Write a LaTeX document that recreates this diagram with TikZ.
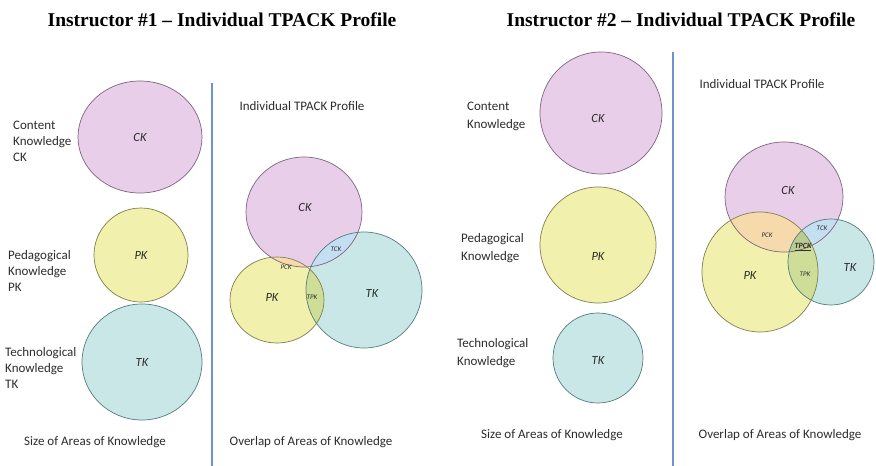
\documentclass[tikz,border=0pt]{standalone}
\usepackage{fontspec}
\setmainfont{Carlito}
\newfontfamily\titlefont{Liberation Serif}
\usepackage{tikz}
\usetikzlibrary{positioning}
\usepackage{xcolor}
\definecolor{ckfill}{RGB}{232,206,232}
\definecolor{ckline}{RGB}{128,100,128}
\definecolor{pkfill}{RGB}{241,240,172}
\definecolor{pkline}{RGB}{128,128,80}
\definecolor{tkfill}{RGB}{202,231,231}
\definecolor{tkline}{RGB}{84,124,124}
\definecolor{pckfill}{RGB}{246,218,172}
\definecolor{tckfill}{RGB}{196,222,242}
\definecolor{tpkfill}{RGB}{206,222,152}
\definecolor{tpckfill}{RGB}{186,204,146}
\definecolor{txtgray}{RGB}{45,45,45}
\definecolor{divblue}{RGB}{112,146,204}

% circle paths, pixel coordinates
\newcommand{\ckOne}{(140,137) ellipse [x radius=62pt, y radius=56pt]}
\newcommand{\pkOne}{(141,255) ellipse [x radius=47pt, y radius=47pt]}
\newcommand{\tkOne}{(142,362) ellipse [x radius=60pt, y radius=58pt]}
\newcommand{\ckOv}{(304,212) ellipse [x radius=58pt, y radius=55pt]}
\newcommand{\pkOv}{(277,300) ellipse [x radius=47pt, y radius=43pt]}
\newcommand{\tkOv}{(364,290) ellipse [x radius=58pt, y radius=58pt]}
\newcommand{\ckTwo}{(601,113) ellipse [x radius=61pt, y radius=61pt]}
\newcommand{\pkTwo}{(598,245) ellipse [x radius=58pt, y radius=58pt]}
\newcommand{\tkTwo}{(598,358) ellipse [x radius=45pt, y radius=45pt]}
\newcommand{\ckMix}{(784,197) ellipse [x radius=59pt, y radius=55pt]}
\newcommand{\pkMix}{(760,272) ellipse [x radius=58pt, y radius=60pt]}
\newcommand{\tkMix}{(831,262) ellipse [x radius=43pt, y radius=43pt]}

\begin{document}
\begin{tikzpicture}[
    x=1pt, y=-1pt,
    head/.style={font=\titlefont\bfseries\fontsize{19.5}{22}\selectfont, text=black},
    side/.style={
        font=\fontsize{13}{16}\selectfont, text=txtgray,
        align=left, anchor=west, inner sep=0pt
    },
    area/.style={font=\fontsize{12.5}{14}\selectfont\itshape, text=txtgray},
    small/.style={font=\fontsize{7}{8}\selectfont\itshape, text=txtgray, inner sep=0pt},
    foot/.style={font=\fontsize{13}{15}\selectfont, text=txtgray},
    divider/.style={draw=divblue, line width=1.5pt},
    ring/.style={line width=0.7pt}
]
\useasboundingbox[fill=white] (0,0) rectangle (876,466);

% Titles
\node[head] (title1) at (222,20) {Instructor \#1 \textendash{} Individual TPACK Profile};
\node[head] (title2) at (681,20) {Instructor \#2 \textendash{} Individual TPACK Profile};

% Dividers
\draw[divider] (212,83) -- (212,466);
\draw[divider] (673,52) -- (673,466);

% Instructor 1: sizes
\fill[ckfill] \ckOne;  \draw[ring, ckline] \ckOne;
\fill[pkfill] \pkOne;  \draw[ring, pkline] \pkOne;
\fill[tkfill] \tkOne;  \draw[ring, tkline] \tkOne;
\node[area] (ck1) at (140,137) {CK};
\node[area] (pk1) at (141,255) {PK};
\node[area] (tk1) at (142,362) {TK};
\node[side] (ck1txt) at (13,141) {Content\\Knowledge\\CK};
\node[side] (pk1txt) at (8,271) {Pedagogical\\Knowledge\\PK};
\node[side] (tk1txt) at (5,368) {Technological\\Knowledge\\TK};
\node[foot] (size1) at (95,442) {Size of Areas of Knowledge};

% Instructor 1: overlap
\node[foot] (prof1) at (302,106) {Individual TPACK Profile};
\fill[ckfill] \ckOv;
\fill[tkfill] \tkOv;
\fill[pkfill] \pkOv;
\begin{scope} \clip \ckOv; \fill[tckfill] \tkOv; \end{scope}
\begin{scope} \clip \ckOv; \fill[pckfill] \pkOv; \end{scope}
\begin{scope} \clip \pkOv; \fill[tpkfill] \tkOv; \end{scope}
\draw[ring, ckline] \ckOv;
\draw[ring, tkline] \tkOv;
\draw[ring, pkline] \pkOv;
\node[area] (ck2) at (305,207) {CK};
\node[area] (pk2) at (272,297) {PK};
\node[area] (tk2) at (372,293) {TK};
\node[small] (tck2) at (336,249) {TCK};
\node[small] (pck2) at (286,267) {PCK};
\node[small] (tpk2) at (312,297) {TPK};
\node[foot] (over1) at (311,442) {Overlap of Areas of Knowledge};

% Instructor 2: sizes
\fill[ckfill] \ckTwo;  \draw[ring, ckline] \ckTwo;
\fill[pkfill] \pkTwo;  \draw[ring, pkline] \pkTwo;
\fill[tkfill] \tkTwo;  \draw[ring, tkline] \tkTwo;
\node[area] (ck3) at (598,118) {CK};
\node[area] (pk3) at (598,256) {PK};
\node[area] (tk3) at (598,360) {TK};
\node[side, font=\fontsize{13}{18}\selectfont] (ck3txt) at (467,116) {Content\\Knowledge};
\node[side, font=\fontsize{13}{18}\selectfont] (pk3txt) at (461,248) {Pedagogical\\Knowledge};
\node[side, font=\fontsize{13}{18}\selectfont] (tk3txt) at (457,353) {Technological\\Knowledge};
\node[foot] (size2) at (552,435) {Size of Areas of Knowledge};

% Instructor 2: overlap
\node[foot] (prof2) at (762,84) {Individual TPACK Profile};
\fill[ckfill] \ckMix;
\fill[tkfill] \tkMix;
\fill[pkfill] \pkMix;
\begin{scope} \clip \ckMix; \fill[tckfill] \tkMix; \end{scope}
\begin{scope} \clip \ckMix; \fill[pckfill] \pkMix; \end{scope}
\begin{scope} \clip \pkMix; \fill[tpkfill] \tkMix; \end{scope}
\begin{scope} \clip \ckMix; \clip \pkMix; \fill[tpckfill] \tkMix; \end{scope}
\draw[ring, ckline] \ckMix;
\draw[ring, tkline] \tkMix;
\draw[ring, pkline] \pkMix;
\node[area] (ck4) at (788,190) {CK};
\node[area] (pk4) at (750,275) {PK};
\node[area] (tk4) at (850,267) {TK};
\node[small] (pck4) at (767,235) {PCK};
\node[small] (tck4) at (822,228) {TCK};
\node[small, font=\fontsize{8}{9}\selectfont\bfseries\itshape] (tpck4) at (803,247) {\underline{TPCK}};
\node[small] (tpk4) at (805,274) {TPK};
\node[foot] (over2) at (780,435) {Overlap of Areas of Knowledge};

\end{tikzpicture}
\end{document}
